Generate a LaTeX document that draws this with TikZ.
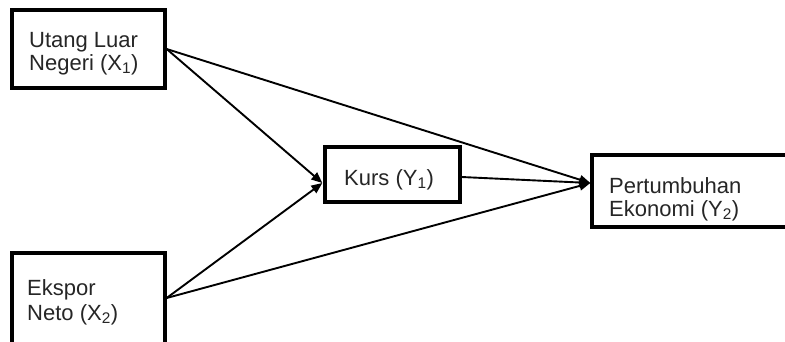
\documentclass[tikz,border=0pt]{standalone}
\usepackage{fontspec}
\setmainfont{Liberation Sans}
\usetikzlibrary{arrows.meta,calc}
\begin{document}
\begin{tikzpicture}[x=1pt,y=-1pt,
  box/.style={draw=black,line width=3.3pt,fill=white,inner sep=0pt},
  lbl/.style={anchor=base west,inner sep=0pt,font=\fontsize{22}{25}\selectfont,text=black!85,align=left},
  conn/.style={line width=1.9pt,-{Triangle[length=11pt,width=9pt]}}]
\useasboundingbox (0,0) rectangle (785,341);
\clip (0,0) rectangle (785,341);
\fill[white] (0,0) rectangle (785,341);
\node[box,minimum width=153pt,minimum height=78pt] (x1) at (88.5,49) {};
\node[box,minimum width=153pt,minimum height=97pt] (x2) at (88.5,301.5) {};
\node[box,minimum width=135pt,minimum height=55pt] (y1) at (392.5,174.5) {};
\node[box,minimum width=220pt,minimum height=72pt] (y2) at (702,191) {};
\coordinate (y1in) at ($(y1.west)+(-1,8.5)$);
\coordinate (y2in) at ($(y2.west)+(0,-8)$);
\coordinate (x2out) at ($(x2.east)+(0,-3.5)$);
\draw[conn] (x1.east) -- (y1in);
\draw[conn] (x2out) -- (y1in);
\draw[conn] (x1.east) -- (y2in);
\draw[conn] (x2out) -- (y2in);
\draw[conn] ($(y1.east)+(0,2.5)$) -- (y2in);
\node[lbl] (t1a) at (29,47) {Utang Luar};
\node[lbl] (t1b) at (29,70) {Negeri (X\textsubscript{1})};
\node[lbl] (t2a) at (27,295) {Ekspor};
\node[lbl] (t2b) at (27,320) {Neto (X\textsubscript{2})};
\node[lbl] (t3) at (344,185) {Kurs (Y\textsubscript{1})};
\node[lbl] (t4a) at (609,193) {Pertumbuhan};
\node[lbl] (t4b) at (609,216) {Ekonomi (Y\textsubscript{2})};
\end{tikzpicture}
\end{document}
